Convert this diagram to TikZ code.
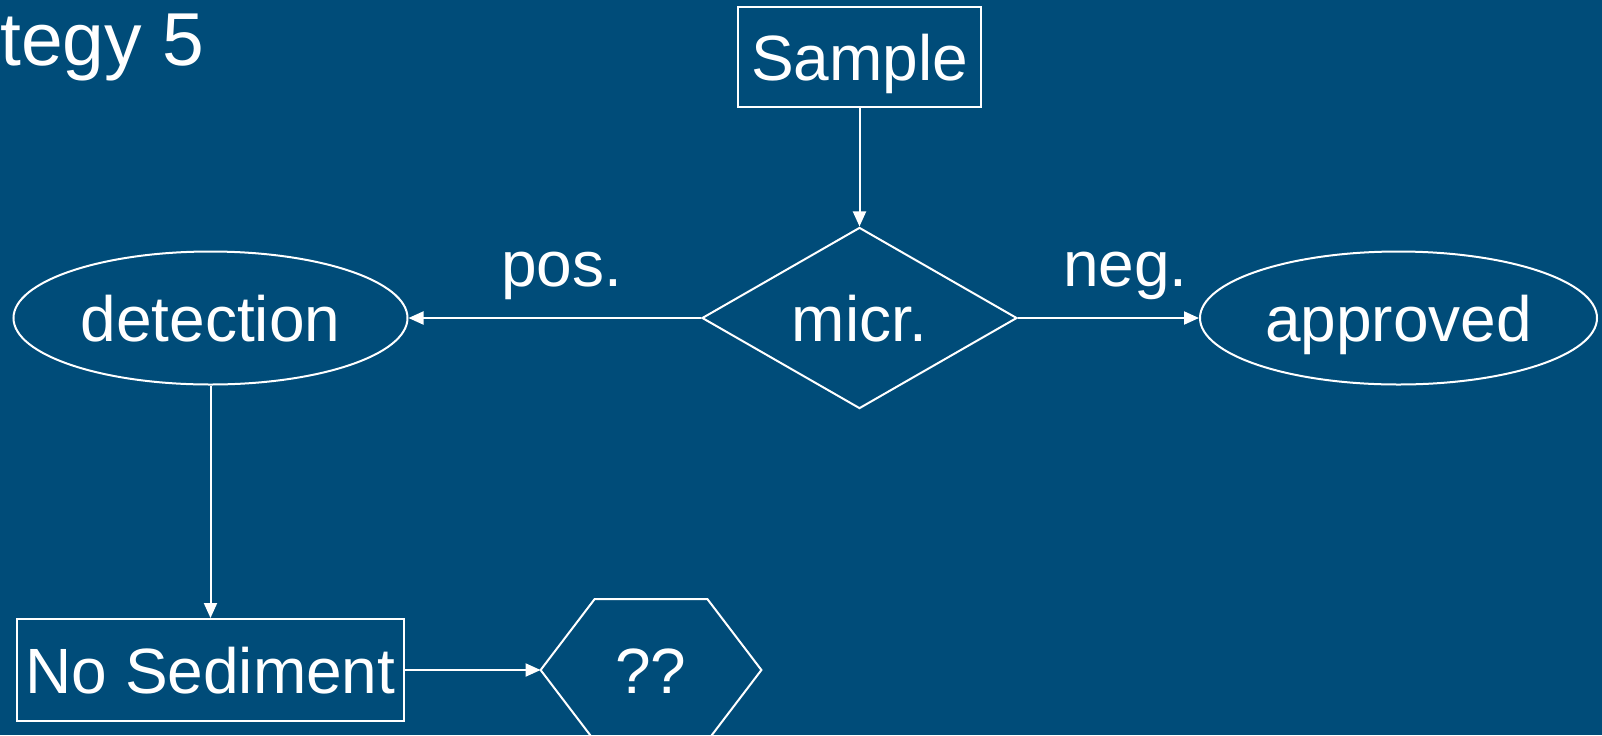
\documentclass[tikz,border=0pt]{standalone}
\usepackage{fontspec}
\setmainfont{Liberation Sans}
\usetikzlibrary{shapes.geometric,arrows.meta}
\definecolor{slideblue}{RGB}{0,76,121}

\begin{document}
\begin{tikzpicture}[x=0.5pt, y=-0.5pt,
    every node/.style={text=white, inner sep=0pt, font=\fontsize{32}{38}\selectfont,
        text height=23pt, text depth=0pt},
    box/.style={draw=white, line width=1pt},
    flow/.style={draw=white, line width=1pt, -{Triangle[length=7.5pt, width=6.5pt]}},
    lbl/.style={midway, anchor=base, yshift=16pt}]

    % Slide background
    \useasboundingbox (0,0) rectangle (1602,735);
    \clip (0,0) rectangle (1602,735);
    \fill[slideblue] (0,0) rectangle (1602,735);

    % Title
    \node[anchor=base east, font=\fontsize{37.5}{45}\selectfont] (title) at (205,65) {Strategy 5};

    % Nodes
    \node[box, minimum width=121.5pt, minimum height=50pt] (sample) at (859.5,57) {Sample};
    \node[box, diamond, minimum width=157.5pt, minimum height=88pt] (micr) at (859.5,318) {micr.};
    \node[box, ellipse, minimum width=197pt, minimum height=66.5pt] (detection) at (210.5,318) {detection};
    \node[box, ellipse, minimum width=198.5pt, minimum height=66.5pt] (approved) at (1398.5,318) {approved};
    \node[box, minimum width=193.5pt, minimum height=51pt] (nosed) at (210.5,670) {No Sediment};
    \node[minimum width=110pt, minimum height=70.5pt] (unknown) at (651,670) {??};
    \draw[white, line width=1pt] (unknown.west) -- ([xshift=27pt]unknown.north west)
        -- ([xshift=-27pt]unknown.north east) -- (unknown.east)
        -- ([xshift=-27pt]unknown.south east) -- ([xshift=27pt]unknown.south west) -- cycle;

    % Connectors
    \draw[flow] (sample) -- (micr);
    \draw[flow] (micr) -- node[lbl, xshift=3.5pt] {pos.} (detection);
    \draw[flow] (micr) -- node[lbl, xshift=8.5pt] {neg.} (approved);
    \draw[flow] (detection) -- (nosed);
    \draw[flow] (nosed) -- (unknown.west);
\end{tikzpicture}
\end{document}
